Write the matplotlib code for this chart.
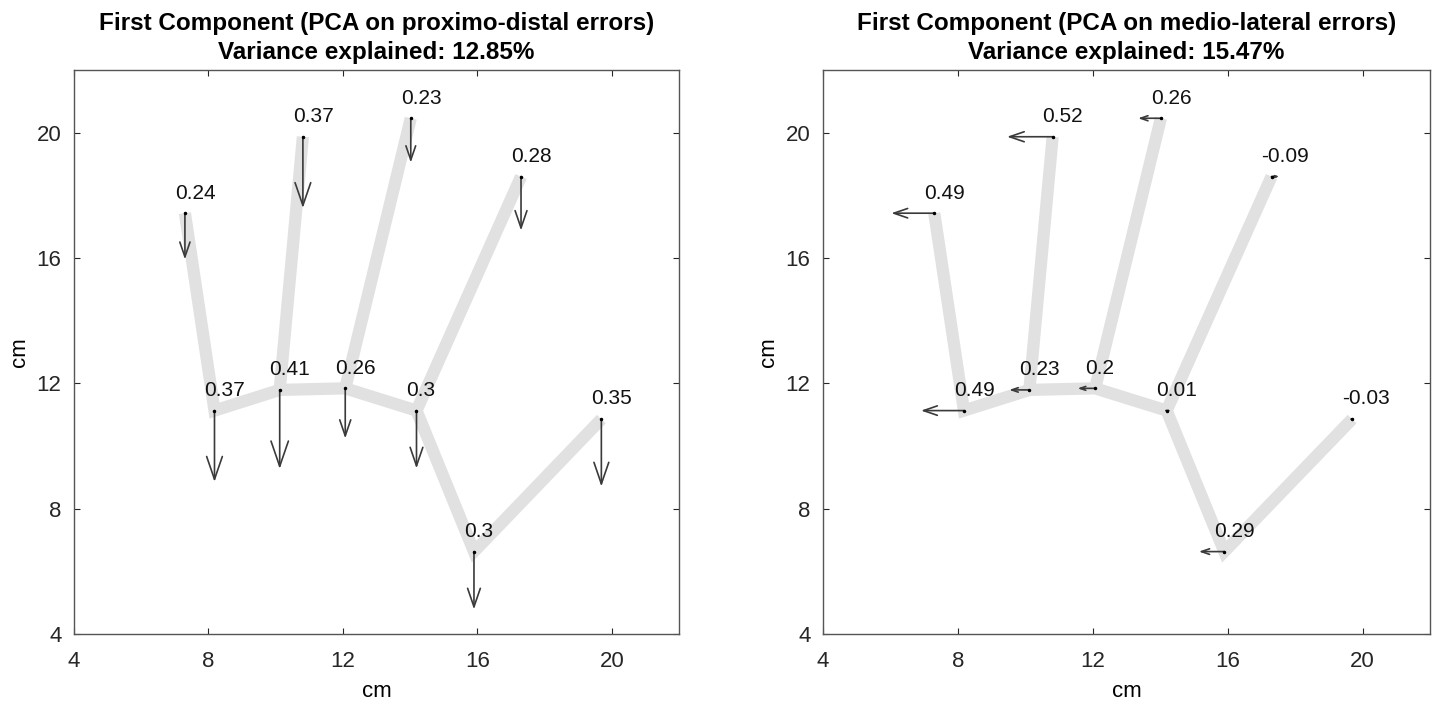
import matplotlib.pyplot as plt
import numpy as np

plt.rcParams['font.family'] = ['Liberation Sans', 'DejaVu Sans']

# joint positions in cm: thumb tip, thumb base, index tip, index base, middle tip,
# middle base, ring tip, ring base, wrist, wrist end
joint_x = [7.30, 8.18, 10.81, 10.12, 14.02, 12.07, 17.30, 14.19, 15.90, 19.69]
joint_y = [17.43, 11.13, 19.87, 11.79, 20.46, 11.84, 18.60, 11.13, 6.63, 10.86]

# skeleton: palm chain and fingers (indices into the joint lists)
chain = [0, 1, 3, 5, 7, 8, 9]
fingers = [(3, 2), (5, 4), (7, 6)]

# first component loadings
pd_loadings = [0.24, 0.37, 0.37, 0.41, 0.23, 0.26, 0.28, 0.3, 0.3, 0.35]
ml_loadings = [0.49, 0.49, 0.52, 0.23, 0.26, 0.2, -0.09, 0.01, 0.29, -0.03]

titles = ['First Component (PCA on proximo-distal errors)\nVariance explained: 12.85%',
          'First Component (PCA on medio-lateral errors)\nVariance explained: 15.47%']

fig = plt.figure(figsize=(14.34, 7.02), dpi=100)
ax1 = fig.add_axes([74 / 1434, 68 / 702, 605 / 1434, 564 / 702])
ax2 = fig.add_axes([823 / 1434, 68 / 702, 607 / 1434, 564 / 702])


def draw_hand(ax, loadings, direction, scale, title):
    ax.set_xlim(4, 22)
    ax.set_ylim(4, 22)
    band = dict(color='#e1e1e1', lw=8.8, solid_capstyle='butt', solid_joinstyle='miter', zorder=1)
    ax.plot([joint_x[i] for i in chain], [joint_y[i] for i in chain], **band)
    for a, b in fingers:
        ax.plot([joint_x[a], joint_x[b]], [joint_y[a], joint_y[b]], **band)

    for x, y, v in zip(joint_x, joint_y, loadings):
        dx = direction[0] * v * scale
        dy = direction[1] * v * scale
        p0 = ax.transData.transform((x, y))
        p1 = ax.transData.transform((x + dx, y + dy))
        L = np.hypot(*(p1 - p0)) * 72 / fig.dpi
        if L > 0.5:
            ax.annotate('', xy=(x + dx, y + dy), xytext=(x, y),
                        arrowprops=dict(arrowstyle='->,head_length=%.2f,head_width=%.2f' % (0.32 * L, 0.11 * L),
                                        mutation_scale=1, color='#3a3a3a', lw=1.2,
                                        shrinkA=0, shrinkB=0), zorder=3)
        ax.text(x - 0.3, y + 0.64, '%g' % v, ha='left', va='center', fontsize=15, color='#111111', zorder=4)
    ax.plot(joint_x, joint_y, '.', color='black', ms=3, zorder=4)

    ax.set_xticks([4, 8, 12, 16, 20])
    ax.set_yticks([4, 8, 12, 16, 20])
    ax.tick_params(direction='in', length=4, top=True, right=True, labelsize=16,
                   colors='#262626', pad=9)
    ax.tick_params(axis='x', pad=12)
    for s in ax.spines.values():
        s.set_color('#555555')
        s.set_linewidth(1.0)
    ax.set_xlabel('cm', fontsize=16, labelpad=7)
    ax.set_ylabel('cm', fontsize=16, labelpad=5)
    ax.set_title(title, fontsize=17.5, fontweight='bold', linespacing=1.3, pad=8)


draw_hand(ax1, pd_loadings, (0, -1), 6.15, titles[0])
draw_hand(ax2, ml_loadings, (-1, 0), 2.6, titles[1])

plt.savefig('out.png', dpi=100)
